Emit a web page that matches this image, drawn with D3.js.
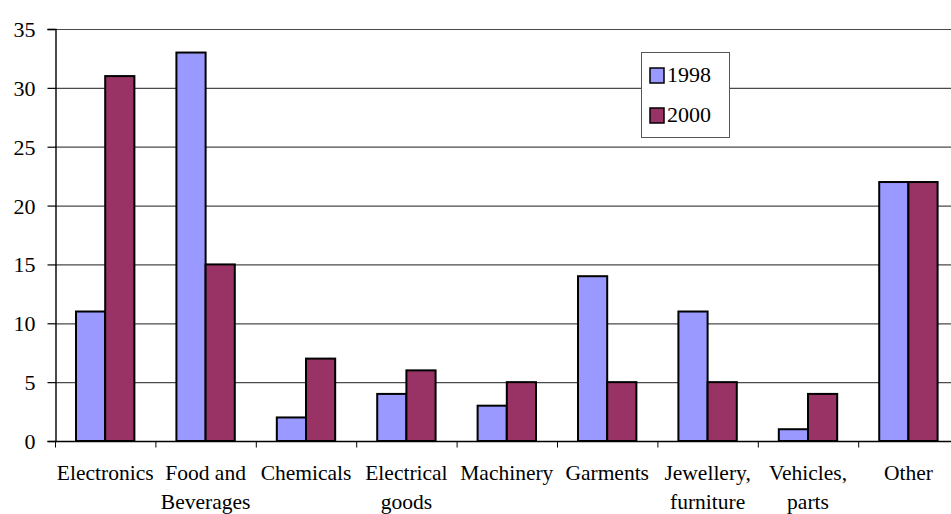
<!DOCTYPE html>
<html>
<head>
<meta charset="utf-8">
<script src="https://cdn.jsdelivr.net/npm/d3@7"></script>
<style>
  html, body { margin: 0; padding: 0; background: #fff; }
  svg { display: block; }
</style>
</head>
<body>
<svg id="chart" width="951" height="514"></svg>
<script>
const categories = [
  ["Electronics"],
  ["Food and", "Beverages"],
  ["Chemicals"],
  ["Electrical", "goods"],
  ["Machinery"],
  ["Garments"],
  ["Jewellery,", "furniture"],
  ["Vehicles,", "parts"],
  ["Other"]
];
const seriesNames = ["1998", "2000"];
const values1998 = [11, 33, 2, 4, 3, 14, 11, 1, 22];
const values2000 = [31, 15, 7, 6, 5, 5, 5, 4, 22];
const yTicks = [0, 5, 10, 15, 20, 25, 30, 35];
const colors = ["#9999FF", "#993366"];

const FONT = "'Liberation Serif', 'Times New Roman', Times, 'DejaVu Serif', serif";
const svg = d3.select("#chart").attr("font-family", FONT);
const plotLeft = 55, bandW = 100.4, plotTop = 29, plotBottom = 441;
const x = d3.scaleBand()
  .domain(d3.range(categories.length))
  .range([plotLeft, plotLeft + bandW * categories.length])
  .paddingInner(0).paddingOuter(0);
const inner = d3.scaleBand().domain([0, 1]).range([0, x.bandwidth()]).paddingInner(0).paddingOuter(0.72);
const y = d3.scaleLinear().domain([0, 35]).range([plotBottom, plotTop]);

// gridlines
svg.append("g").selectAll("line").data(yTicks.filter(d => d > 0)).join("line")
  .attr("x1", plotLeft).attr("x2", 951)
  .attr("y1", d => y(d) + 0.5).attr("y2", d => y(d) + 0.5)
  .attr("stroke", "#4a4a4a").attr("stroke-width", 1.2);

// bars
const series = [values1998, values2000];
series.forEach((vals, si) => {
  svg.append("g").selectAll("rect").data(vals).join("rect")
    .attr("x", (d, i) => x(i) + inner(si))
    .attr("y", d => y(d))
    .attr("width", inner.bandwidth())
    .attr("height", d => y(0) - y(d))
    .attr("fill", colors[si])
    .attr("stroke", "#000").attr("stroke-width", 2);
});

// y axis
const yAxis = d3.axisLeft(y).tickValues(yTicks).tickSize(8).tickPadding(12);
const gy = svg.append("g").attr("transform", `translate(${plotLeft + 0.5},0)`).call(yAxis)
  .attr("font-family", FONT).attr("font-size", 22);
gy.select(".domain").attr("stroke", "#000").attr("stroke-width", 1.4);
gy.selectAll(".tick line").attr("stroke", "#000").attr("stroke-width", 1.2);
gy.selectAll(".tick text").attr("font-family", FONT).attr("font-size", 22).attr("fill", "#000").attr("dy", "0.34em");

// x axis
const gx = svg.append("g").attr("transform", `translate(0,${plotBottom + 0.5})`);
gx.append("line").attr("x1", plotLeft).attr("x2", 951).attr("stroke", "#000").attr("stroke-width", 1.4);
gx.selectAll("line.tk").data(d3.range(categories.length + 1)).join("line")
  .attr("class", "tk")
  .attr("x1", i => plotLeft + bandW * i + 0.5).attr("x2", i => plotLeft + bandW * i + 0.5)
  .attr("y1", 0).attr("y2", 6).attr("stroke", "#000");
const lbl = gx.selectAll("text").data(categories).join("text")
  .attr("text-anchor", "middle")
  .attr("font-family", FONT)
  .attr("font-size", 21.5)
  .attr("fill", "#000")
  .attr("transform", (d, i) => `translate(${x(i) + x.bandwidth() / 2},38)`);
lbl.selectAll("tspan").data(d => d).join("tspan")
  .attr("x", 0).attr("y", (d, j) => j * 29).text(d => d);

// legend
const lg = svg.append("g");
lg.append("rect").attr("x", 641.5).attr("y", 52.5).attr("width", 88).attr("height", 85)
  .attr("fill", "#fff").attr("stroke", "#555").attr("stroke-width", 1);
seriesNames.forEach((name, i) => {
  lg.append("rect").attr("x", 650).attr("y", 68 + i * 40).attr("width", 14).attr("height", 15)
    .attr("fill", colors[i]).attr("stroke", "#000").attr("stroke-width", 1.5);
  lg.append("text").attr("x", 667).attr("y", 82 + i * 40)
    .attr("font-family", FONT).attr("font-size", 22).attr("fill", "#000").text(name);
});
</script>
</body>
</html>
